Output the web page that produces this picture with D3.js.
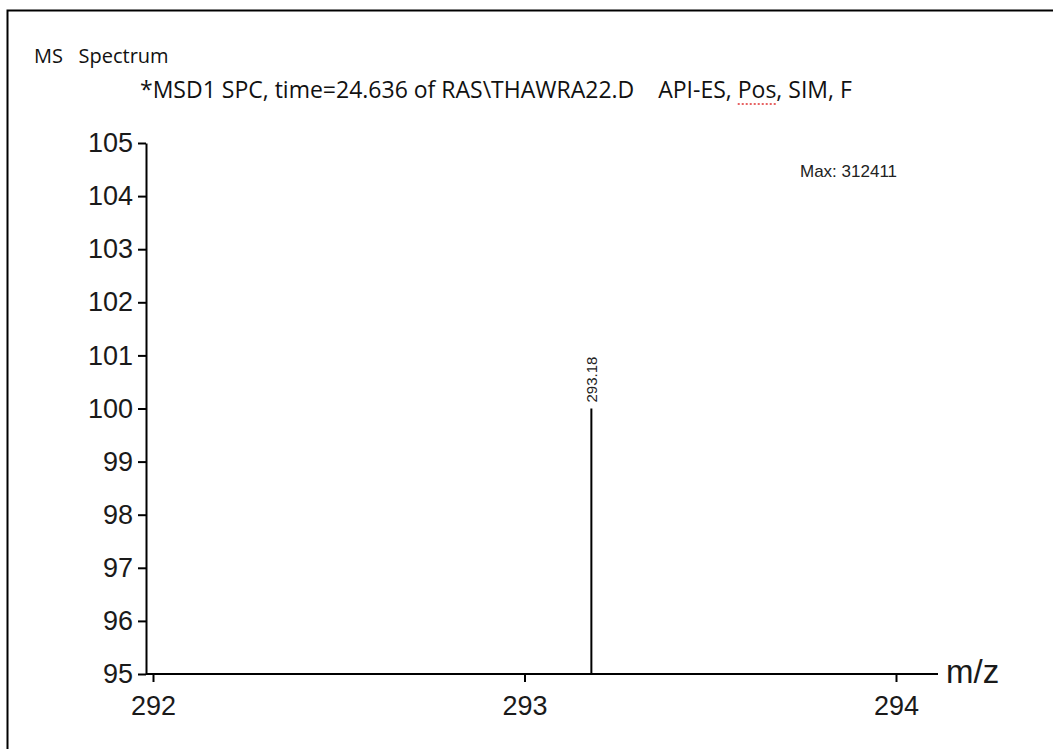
<!DOCTYPE html>
<html>
<head>
<meta charset="utf-8">
<script src="https://cdn.jsdelivr.net/npm/d3@7"></script>
<style>
  body { margin: 0; background: #fff; }
  svg { display: block; }
</style>
</head>
<body>
<div id="graf"></div>
<script>
// Datos
const picosMz = [293.18];
const picosIntensidad = [100];
const picosEtiquetas = ["293.18"];
const ticksX = [292, 293, 294];
const ticksY = [95, 96, 97, 98, 99, 100, 101, 102, 103, 104, 105];
const titulo = "MS   Spectrum";
const subtitulo = "*MSD1 SPC, time=24.636 of RAS\\THAWRA22.D    API-ES, ";
const maxTexto = "Max: 312411";

// Dimensiones
const anchoTotal = 1053;
const altoTotal = 749;

const svg = d3.select("#graf")
  .append("svg")
  .attr("width", anchoTotal)
  .attr("height", altoTotal);

// Marco (solo se ven arriba e izquierda)
svg.append("path")
  .attr("d", "M7.5,760 L7.5,10.5 L1060,10.5")
  .attr("fill", "none")
  .attr("stroke", "#000")
  .attr("stroke-width", 2);

// Escalas
const x = d3.scaleLinear().domain([292, 294]).range([153, 896]);
const y = d3.scaleLinear().domain([95, 105]).range([674, 143]);

const fuente = "Liberation Sans, Arial, sans-serif";
const fuenteTitulo = "Open Sans, sans-serif";

// Eje Y
const ejeY = svg.append("g")
  .attr("transform", "translate(146,0)")
  .call(d3.axisLeft(y).tickValues(ticksY).tickSize(8).tickSizeOuter(0).tickPadding(5));
ejeY.select(".domain").attr("stroke-width", 2);
ejeY.selectAll(".tick line").attr("stroke-width", 2);
ejeY.selectAll("text")
  .style("font-family", fuente)
  .style("font-size", "27px")
  .attr("fill", "#1a1a1a");

// Eje X (linea base hasta x=938)
svg.append("line")
  .attr("x1", 146).attr("x2", 938)
  .attr("y1", 674).attr("y2", 674)
  .attr("stroke", "#000").attr("stroke-width", 2);

const ejeX = svg.append("g")
  .attr("transform", "translate(0,674)")
  .call(d3.axisBottom(x).tickValues(ticksX).tickFormat(d3.format("d"))
    .tickSize(8).tickSizeOuter(0).tickPadding(14));
ejeX.select(".domain").remove();
ejeX.selectAll(".tick line").attr("stroke-width", 2);
ejeX.selectAll("text")
  .style("font-family", fuente)
  .style("font-size", "27px")
  .attr("fill", "#1a1a1a");

svg.append("text")
  .attr("x", 946)
  .attr("y", 683)
  .style("font-family", fuente)
  .style("font-size", "33px")
  .attr("fill", "#1a1a1a")
  .text("m/z");

// Picos
svg.selectAll("line.pico")
  .data(picosMz)
  .enter()
  .append("line")
  .attr("class", "pico")
  .attr("x1", (d) => x(d))
  .attr("x2", (d) => x(d))
  .attr("y1", y(95))
  .attr("y2", (d, i) => y(picosIntensidad[i]))
  .attr("stroke", "#000")
  .attr("stroke-width", 2);

svg.selectAll("text.etiqueta")
  .data(picosMz)
  .enter()
  .append("text")
  .attr("class", "etiqueta")
  .attr("transform", (d, i) => `translate(${x(d) + 6},${y(picosIntensidad[i]) - 6}) rotate(-90)`)
  .style("font-family", fuente)
  .style("font-size", "15px")
  .attr("fill", "#222")
  .text((d, i) => picosEtiquetas[i]);

// Textos
svg.append("text")
  .attr("x", 34)
  .attr("y", 63)
  .style("font-family", fuenteTitulo)
  .style("font-size", "20px")
  .attr("fill", "#111")
  .style("white-space", "pre")
  .text(titulo);

const sub = svg.append("text")
  .attr("x", 140)
  .attr("y", 98)
  .style("font-family", fuenteTitulo)
  .style("font-size", "23px")
  .attr("fill", "#111")
  .style("white-space", "pre");
sub.append("tspan").text(subtitulo);
const pos = sub.append("tspan").text("Pos");
sub.append("tspan").text(", SIM, F");

// subrayado rojo punteado bajo "Pos"
const textoAntes = svg.append("text")
  .style("font-family", fuenteTitulo)
  .style("font-size", "23px")
  .style("white-space", "pre")
  .attr("opacity", 0)
  .text(subtitulo);
const anchoAntes = textoAntes.node().getComputedTextLength();
const anchoPos = pos.node().getComputedTextLength();
textoAntes.remove();
svg.append("line")
  .attr("x1", 140 + anchoAntes)
  .attr("x2", 140 + anchoAntes + anchoPos)
  .attr("y1", 104).attr("y2", 104)
  .attr("stroke", "#e03030")
  .attr("stroke-width", 1.5)
  .attr("stroke-dasharray", "2,2");

svg.append("text")
  .attr("x", 800)
  .attr("y", 177)
  .style("font-family", fuente)
  .style("font-size", "17px")
  .attr("fill", "#222")
  .text(maxTexto);
</script>
</body>
</html>
